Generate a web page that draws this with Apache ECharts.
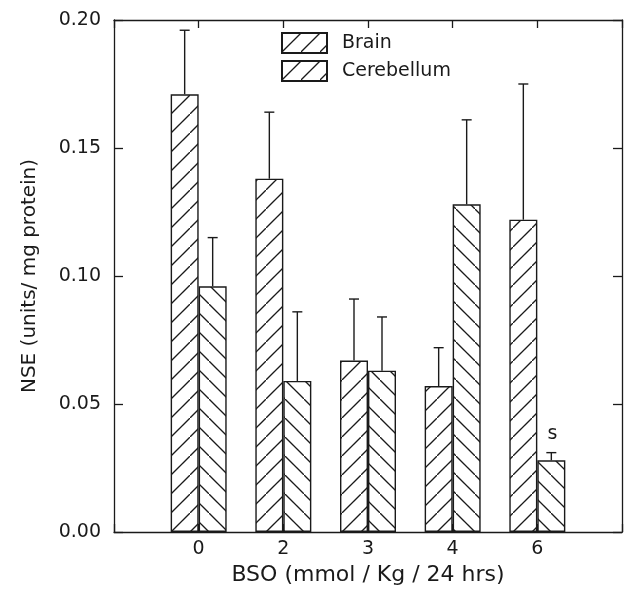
<!DOCTYPE html>
<html>
<head>
<meta charset="utf-8">
<script src="https://cdn.jsdelivr.net/npm/echarts@6/dist/echarts.min.js"></script>
<style>
  html, body { margin: 0; padding: 0; background: #fff; }
  #chart { width: 626px; height: 591px; }
</style>
</head>
<body>
<div id="chart"></div>
<script>
// empty slots at both ends give the frame margin around the groups
const categories = ['', '0', '2', '3', '4', '6', '']
const brainMean = [0.171, 0.138, 0.067, 0.057, 0.122]
const brainSE = [0.025, 0.026, 0.024, 0.015, 0.053]
const cereMean = [0.096, 0.059, 0.063, 0.128, 0.028]
const cereSE = [0.019, 0.027, 0.021, 0.033, 0.003]
const cereMarks = ['', '', '', '', 's']
const noMarks = ['', '', '', '', '']

const font = 'DejaVu Sans'
const ink = '#1a1a1a'

function hatch(dir) {
    const s = 19
    const c = document.createElement('canvas')
    c.width = s
    c.height = s
    const g = c.getContext('2d')
    g.fillStyle = '#fff'
    g.fillRect(0, 0, s, s)
    g.strokeStyle = ink
    g.lineWidth = 1.3
    g.beginPath()
    if (dir > 0) {
        g.moveTo(-2, s + 2); g.lineTo(s + 2, -2)
    } else {
        g.moveTo(-2, -2); g.lineTo(s + 2, s + 2)
    }
    g.stroke()
    return c
}
const fwd = { image: hatch(1), repeat: 'repeat' }
const back = { image: hatch(-1), repeat: 'repeat' }

const pad = arr => ['-', ...arr, '-']
const errData = mean => mean.map((m, i) => [i + 1, m])

// error bar drawn up from the bar top, offset half a bar from the group centre
function makeErr(se, marks, off) {
    return function (params, api) {
        const i = params.dataIndex
        const x0 = api.value(0)
        const m = api.value(1)
        const a = api.coord([x0, m])
        const b = api.coord([x0, m + se[i]])
        const x = a[0] + off
        const st = { stroke: ink, lineWidth: 1.4 }
        const children = [
            { type: 'line', shape: { x1: x, y1: a[1], x2: x, y2: b[1] }, style: st },
            { type: 'line', shape: { x1: x - 5, y1: b[1], x2: x + 5, y2: b[1] }, style: st }
        ]
        if (marks[i]) {
            children.push({
                type: 'text',
                style: {
                    x: x + 1, y: b[1] - 9, text: marks[i],
                    font: '19px "' + font + '"', fill: ink, align: 'center', verticalAlign: 'bottom'
                }
            })
        }
        return { type: 'group', children: children }
    }
}

const chart = echarts.init(document.getElementById('chart'))
const lineStyle = { color: ink, width: 1.3 }
const yBase = {
    type: 'value',
    min: 0,
    max: 0.2,
    interval: 0.05,
    axisLine: { show: true, onZero: false, lineStyle: lineStyle },
    axisTick: { show: true, inside: true, length: 9, lineStyle: lineStyle },
    splitLine: { show: false }
}

chart.setOption({
    animation: false,
    textStyle: { fontFamily: font, color: ink },
    grid: { left: 114, right: 4, top: 20, bottom: 54 },
    legend: {
        orient: 'vertical',
        left: 281,
        top: 32,
        padding: 0,
        icon: 'rect',
        itemWidth: 45,
        itemHeight: 20,
        itemGap: 6,
        textStyle: { fontSize: 19, color: ink, fontFamily: font, padding: [0, 0, 0, 10] },
        data: [
            { name: 'Brain' },
            { name: 'Cerebellum', itemStyle: { color: fwd } }
        ]
    },
    xAxis: [
        {
            type: 'category',
            data: categories,
            boundaryGap: false,
            axisLine: { onZero: false, lineStyle: lineStyle },
            axisTick: { show: true, inside: true, length: 8, interval: 0, lineStyle: lineStyle },
            splitLine: { show: false },
            axisLabel: { fontSize: 19, color: ink, margin: 8, interval: 0, fontFamily: font },
            name: 'BSO (mmol / Kg / 24 hrs)',
            nameLocation: 'middle',
            nameGap: 32,
            nameTextStyle: { fontSize: 22, color: ink, fontFamily: font }
        },
        // top frame: one tick per category slot, same spacing as the bottom axis
        {
            type: 'value',
            position: 'top',
            min: 0,
            max: categories.length - 1,
            interval: 1,
            axisLine: { show: true, onZero: false, lineStyle: lineStyle },
            axisTick: { show: true, inside: true, length: 8, lineStyle: lineStyle },
            axisLabel: { show: false },
            splitLine: { show: false }
        }
    ],
    yAxis: [
        Object.assign({}, yBase, {
            axisLabel: {
                fontSize: 19, color: ink, margin: 13, fontFamily: font,
                formatter: v => v.toFixed(2)
            },
            name: 'NSE (units/ mg protein)',
            nameLocation: 'middle',
            nameGap: 74,
            nameTextStyle: { fontSize: 20, color: ink, fontFamily: font }
        }),
        Object.assign({}, yBase, { position: 'right', axisLabel: { show: false } })
    ],
    series: [
        {
            name: 'Brain',
            type: 'bar',
            data: pad(brainMean),
            barWidth: 28,
            barGap: '0%',
            itemStyle: { color: fwd, borderColor: ink, borderWidth: 1.4 }
        },
        {
            name: 'Cerebellum',
            type: 'bar',
            data: pad(cereMean),
            barWidth: 28,
            barGap: '0%',
            itemStyle: { color: back, borderColor: ink, borderWidth: 1.4 }
        },
        {
            name: 'brainErr',
            type: 'custom',
            renderItem: makeErr(brainSE, noMarks, -14),
            data: errData(brainMean),
            z: 5
        },
        {
            name: 'cereErr',
            type: 'custom',
            renderItem: makeErr(cereSE, cereMarks, 14),
            data: errData(cereMean),
            z: 5
        }
    ]
})
</script>
</body>
</html>
